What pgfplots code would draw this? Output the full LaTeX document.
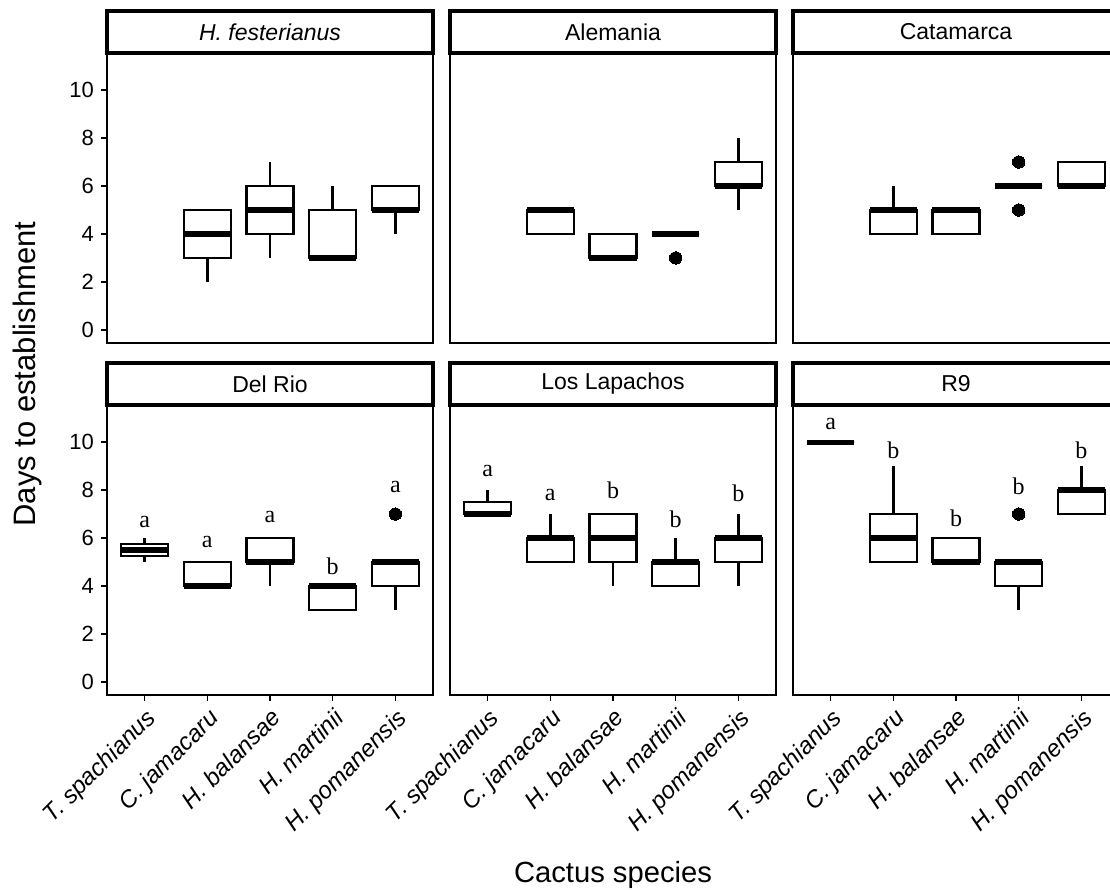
\documentclass[border=0pt]{standalone}
\usepackage{fontspec}
\setmainfont{Liberation Sans}
\newfontfamily\letterfont{Liberation Serif}
\usepackage{pgfplots}
\pgfplotsset{compat=1.18}
\usepgfplotslibrary{groupplots,statistics}

\pgfplotsset{
  facet/.style={
    scale only axis, width=163pt, height=145pt,
    xmin=0.4, xmax=5.6, ymin=-0.55, ymax=11.55,
    xtick={1,2,3,4,5},
    xticklabels={T. spachianus, C. jamacaru, H. balansae, H. martinii, H. pomanensis},
    ytick={0,2,4,6,8,10},
    xtick pos=bottom, ytick pos=left,
    tick align=outside, major tick length=3pt,
    tick style={black, line width=0.7pt},
    axis line style={line width=1.1pt},
    xticklabel style={font=\fontsize{12}{14}\selectfont\itshape, rotate=45, anchor=north east, inner sep=2pt},
    yticklabel style={font=\fontsize{11}{13}\selectfont, /pgf/number format/assume math mode=true},
    every axis title/.style={at={(0.5,1)}, anchor=south, draw=black, line width=1.6pt,
      outer sep=0pt, inner sep=0pt, minimum width=163pt, minimum height=21pt,
      font=\fontsize{11.5}{13}\selectfont},
    boxplot/draw direction=y,
    boxplot/box extend=0.75,
    boxplot/whisker extend=0,
    boxplot/every median/.style={line width=2.6pt},
    clip=false,
  },
  bx/.style={boxplot prepared={#1}, black, solid, line width=1.2pt,
    mark=*, mark size=3.1pt, mark options={fill=black, draw=black, solid, line width=0pt}},
}
\tikzset{lt/.style={font=\letterfont\fontsize{12}{14}\selectfont, inner sep=0pt}}

\begin{document}
\begin{tikzpicture}
\begin{groupplot}[group style={group size=3 by 2, horizontal sep=8.5pt, vertical sep=31pt}, facet]

% H. festerianus
\nextgroupplot[title={\itshape H. festerianus}, xtick=\empty]
\addplot[bx={draw position=2, lower whisker=2, lower quartile=3, median=4, upper quartile=5, upper whisker=5}] coordinates {};
\addplot[bx={draw position=3, lower whisker=3, lower quartile=4, median=5, upper quartile=6, upper whisker=7}] coordinates {};
\addplot[bx={draw position=4, lower whisker=3, lower quartile=3, median=3, upper quartile=5, upper whisker=6}] coordinates {};
\addplot[bx={draw position=5, lower whisker=4, lower quartile=5, median=5, upper quartile=6, upper whisker=6}] coordinates {};

% Alemania
\nextgroupplot[title={Alemania}, xtick=\empty, ytick=\empty]
\addplot[bx={draw position=2, lower whisker=4, lower quartile=4, median=5, upper quartile=5, upper whisker=5}] coordinates {};
\addplot[bx={draw position=3, lower whisker=3, lower quartile=3, median=3, upper quartile=4, upper whisker=4}] coordinates {};
\addplot[bx={draw position=4, lower whisker=4, lower quartile=4, median=4, upper quartile=4, upper whisker=4}] coordinates {(4,3)};
\addplot[bx={draw position=5, lower whisker=5, lower quartile=6, median=6, upper quartile=7, upper whisker=8}] coordinates {};

% Catamarca
\nextgroupplot[title={Catamarca}, xtick=\empty, ytick=\empty]
\addplot[bx={draw position=2, lower whisker=4, lower quartile=4, median=5, upper quartile=5, upper whisker=6}] coordinates {};
\addplot[bx={draw position=3, lower whisker=4, lower quartile=4, median=5, upper quartile=5, upper whisker=5}] coordinates {};
\addplot[bx={draw position=4, lower whisker=6, lower quartile=6, median=6, upper quartile=6, upper whisker=6}] coordinates {(4,7) (4,5)};
\addplot[bx={draw position=5, lower whisker=6, lower quartile=6, median=6, upper quartile=7, upper whisker=7}] coordinates {};

% Del Rio
\nextgroupplot[title={Del Rio}]
\addplot[bx={draw position=1, lower whisker=5, lower quartile=5.25, median=5.5, upper quartile=5.75, upper whisker=6}] coordinates {};
\addplot[bx={draw position=2, lower whisker=4, lower quartile=4, median=4, upper quartile=5, upper whisker=5}] coordinates {};
\addplot[bx={draw position=3, lower whisker=4, lower quartile=5, median=5, upper quartile=6, upper whisker=6}] coordinates {};
\addplot[bx={draw position=4, lower whisker=3, lower quartile=3, median=4, upper quartile=4, upper whisker=4}] coordinates {};
\addplot[bx={draw position=5, lower whisker=3, lower quartile=4, median=5, upper quartile=5, upper whisker=5}] coordinates {(5,7)};
\node[lt] at (axis cs:1,6.68) {a};
\node[lt] at (axis cs:2,5.83) {a};
\node[lt] at (axis cs:3,6.87) {a};
\node[lt] at (axis cs:4,4.81) {b};
\node[lt] at (axis cs:5,8.12) {a};

% Los Lapachos
\nextgroupplot[title={Los Lapachos}, ytick=\empty]
\addplot[bx={draw position=1, lower whisker=7, lower quartile=7, median=7, upper quartile=7.5, upper whisker=8}] coordinates {};
\addplot[bx={draw position=2, lower whisker=5, lower quartile=5, median=6, upper quartile=6, upper whisker=7}] coordinates {};
\addplot[bx={draw position=3, lower whisker=4, lower quartile=5, median=6, upper quartile=7, upper whisker=7}] coordinates {};
\addplot[bx={draw position=4, lower whisker=4, lower quartile=4, median=5, upper quartile=5, upper whisker=6}] coordinates {};
\addplot[bx={draw position=5, lower whisker=4, lower quartile=5, median=6, upper quartile=6, upper whisker=7}] coordinates {};
\node[lt] at (axis cs:1,8.81) {a};
\node[lt] at (axis cs:2,7.81) {a};
\node[lt] at (axis cs:3,7.99) {b};
\node[lt] at (axis cs:4,6.78) {b};
\node[lt] at (axis cs:5,7.85) {b};

% R9
\nextgroupplot[title={R9}, ytick=\empty]
\addplot[bx={draw position=1, lower whisker=10, lower quartile=10, median=10, upper quartile=10, upper whisker=10}] coordinates {};
\addplot[bx={draw position=2, lower whisker=5, lower quartile=5, median=6, upper quartile=7, upper whisker=9}] coordinates {};
\addplot[bx={draw position=3, lower whisker=5, lower quartile=5, median=5, upper quartile=6, upper whisker=6}] coordinates {};
\addplot[bx={draw position=4, lower whisker=3, lower quartile=4, median=5, upper quartile=5, upper whisker=5}] coordinates {(4,7)};
\addplot[bx={draw position=5, lower whisker=7, lower quartile=7, median=8, upper quartile=8, upper whisker=9}] coordinates {};
\node[lt] at (axis cs:1,10.74) {a};
\node[lt] at (axis cs:2,9.67) {b};
\node[lt] at (axis cs:3,6.84) {b};
\node[lt] at (axis cs:4,8.17) {b};
\node[lt] at (axis cs:5,9.67) {b};

\end{groupplot}
\node[rotate=90, font=\fontsize{15.5}{18}\selectfont] at ([xshift=-40pt,yshift=160.5pt]group c1r2.south west) {Days to establishment};
\node[font=\fontsize{14.6}{17}\selectfont] at ([yshift=-90pt]group c2r2.south) {Cactus species};
\pgfresetboundingbox
\path[use as bounding box] ([xshift=-53.5pt,yshift=-97.5pt]group c1r2.south west) rectangle ++(555pt,445pt);
\end{tikzpicture}
\end{document}
